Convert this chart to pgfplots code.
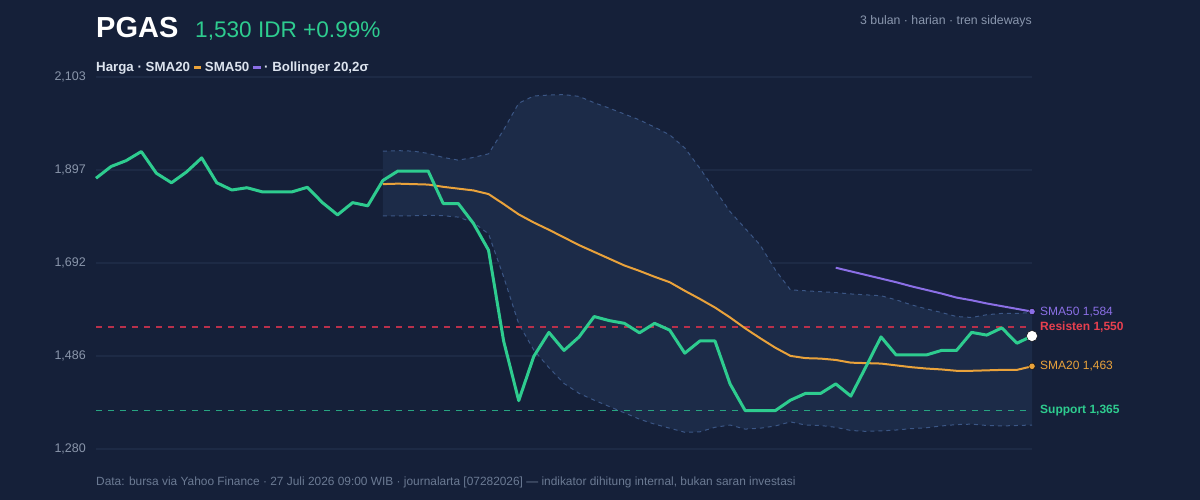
\documentclass[border=0pt]{standalone}
\usepackage{pgfplots}
\pgfplotsset{compat=1.18}
\usepgfplotslibrary{fillbetween}
\usepackage{fontspec}
\setmainfont{Liberation Sans}
\definecolor{bg}{HTML}{152039}
\definecolor{bandfill}{HTML}{1C2B48}
\definecolor{gridc}{HTML}{1D2A45}
\definecolor{bandline}{HTML}{3B5685}
\definecolor{pgreen}{HTML}{2ECC8F}
\definecolor{porange}{HTML}{E9A23B}
\definecolor{ppurple}{HTML}{8B6FE6}
\definecolor{resline}{HTML}{B8304B}
\definecolor{reslabel}{HTML}{E8404F}
\definecolor{supline}{HTML}{27A582}
\definecolor{tickc}{HTML}{8A96AB}
\definecolor{footc}{HTML}{6B7A93}
\definecolor{legc}{HTML}{DCE3EE}
\definecolor{topc}{HTML}{8A97AE}

\pgfplotstableread{
i v
0 1879
1 1905
2 1918
3 1938
4 1890
5 1869
6 1893
7 1924
8 1869
9 1853
10 1858
11 1849
12 1849
13 1849
14 1859
15 1825
16 1798
17 1825
18 1818
19 1874
20 1895
21 1895
22 1895
23 1823
24 1823
25 1779
26 1720
27 1519
28 1387
29 1485
30 1538
31 1498
32 1528
33 1573
34 1564
35 1558
36 1537
37 1558
38 1543
39 1492
40 1519
41 1519
42 1424
43 1365
44 1365
45 1365
46 1388
47 1403
48 1403
49 1424
50 1397
51 1462
52 1528
53 1488
54 1488
55 1488
56 1498
57 1498
58 1538
59 1532
60 1548
61 1514
62 1530
}\pricetab

\pgfplotstableread{
i v
19 1866
20 1867
21 1866
22 1865
23 1860
24 1856
25 1852
26 1844
27 1822
28 1799
29 1781
30 1765
31 1748
32 1731
33 1716
34 1701
35 1686
36 1674
37 1661
38 1649
39 1630
40 1612
41 1593
42 1571
43 1547
44 1525
45 1504
46 1486
47 1481
48 1480
49 1477
50 1471
51 1470
52 1469
53 1465
54 1461
55 1458
56 1456
57 1453
58 1453
59 1454
60 1455
61 1455
62 1463
}\smatwentytab

\pgfplotstableread{
i v
49 1681
50 1673
51 1665
52 1657
53 1649
54 1640
55 1632
56 1624
57 1615
58 1609
59 1602
60 1596
61 1590
62 1584
}\smafiftytab

\pgfplotstableread{
i v
19 1939
20 1940
21 1939
22 1934
23 1925
24 1919
25 1925
26 1933
27 1986
28 2045
29 2061
30 2063
31 2064
32 2060
33 2046
34 2034
35 2021
36 2008
37 1992
38 1975
39 1946
40 1901
41 1853
42 1805
43 1768
44 1731
45 1676
46 1632
47 1630
48 1628
49 1626
50 1623
51 1621
52 1619
53 1610
54 1599
55 1590
56 1582
57 1573
58 1571
59 1577
60 1580
61 1580
62 1582
}\uppertab

\pgfplotstableread{
i v
19 1796
20 1796
21 1796
22 1797
23 1796
24 1793
25 1781
26 1756
27 1661
28 1557
29 1499
30 1460
31 1425
32 1403
33 1388
34 1374
35 1360
36 1346
37 1335
38 1326
39 1317
40 1318
41 1328
42 1333
43 1324
44 1326
45 1331
46 1340
47 1333
48 1332
49 1328
50 1321
51 1319
52 1320
53 1322
54 1325
55 1327
56 1331
57 1334
58 1335
59 1332
60 1331
61 1332
62 1333
}\lowertab

\begin{document}%
\pagecolor{bg}%
\begin{tikzpicture}[x=1pt,y=1pt]
\path (0,0) rectangle (1200,500);
\node[anchor=base west, inner sep=0pt, text=white, font=\fontsize{29}{32}\selectfont\bfseries] at (96,462) {PGAS};
\node[anchor=base west, inner sep=0pt, text=pgreen, font=\fontsize{22.6}{26}\selectfont] at (195,462) {1,530 IDR +0.99\%};
\node[anchor=base east, inner sep=0pt, text=topc, font=\fontsize{12.3}{15}\selectfont] at (1032,475) {3 bulan · harian · tren sideways};
\node[anchor=base west, inner sep=0pt, text=legc, font=\fontsize{13.3}{15}\selectfont\bfseries] at (96,428) {Harga · SMA20 \textcolor{porange}{\rule[3.4pt]{7.5pt}{2.8pt}} SMA50 \textcolor{ppurple}{\rule[3.4pt]{7.5pt}{2.8pt}} · Bollinger 20,2σ};
\node[anchor=base west, inner sep=0pt, text=footc, font=\fontsize{11.9}{14}\selectfont] at (96,14) {Data: bursa via Yahoo Finance · 27 Juli 2026 09:00 WIB · journalarta [07282026] — indikator dihitung internal, bukan saran investasi};
\begin{axis}[
  at={(96pt,51pt)}, anchor=south west,
  scale only axis, width=936pt, height=372pt,
  xmin=0, xmax=62, ymin=1280, ymax=2103,
  axis line style={draw=none},
  major tick length=0pt,
  xtick=\empty,
  ytick={1280,1486,1692,1897,2103},
  yticklabels={{1,280},{1,486},{1,692},{1,897},{2,103}},
  yticklabel style={font=\fontsize{12.5}{15}\selectfont, text=tickc, inner sep=0pt, xshift=-10pt},
  ymajorgrids,
  grid style={draw=gridc, line width=1.5pt},
  clip=false,
]
\addplot[name path=up, draw=none, forget plot] table[x=i,y=v] {\uppertab};
\addplot[name path=lo, draw=none, forget plot] table[x=i,y=v] {\lowertab};
\addplot[fill=bandfill, draw=none] fill between[of=up and lo];
\addplot[draw=bandline, line width=1pt, dash pattern=on 4pt off 4pt] table[x=i,y=v] {\uppertab};
\addplot[draw=bandline, line width=1pt, dash pattern=on 4pt off 4pt] table[x=i,y=v] {\lowertab};
\addplot[draw=resline, line width=1.5pt, dash pattern=on 6pt off 6pt] coordinates {(0,1550) (62,1550)};
\addplot[draw=supline, line width=1.5pt, dash pattern=on 6pt off 6pt] coordinates {(0,1365) (62,1365)};
\addplot[draw=porange, line width=2pt] table[x=i,y=v] {\smatwentytab};
\addplot[draw=ppurple, line width=2pt] table[x=i,y=v] {\smafiftytab};
\addplot[draw=pgreen, line width=3pt, line join=round] table[x=i,y=v] {\pricetab};
\addplot[only marks, mark=*, mark size=3.2pt, mark options={fill=ppurple, draw=none}] coordinates {(62,1584)};
\addplot[only marks, mark=*, mark size=3.2pt, mark options={fill=porange, draw=none}] coordinates {(62,1463)};
\addplot[only marks, mark=*, mark size=5.5pt, mark options={fill=white, draw=none}] coordinates {(62,1530)};
\node[anchor=west, inner sep=0pt, xshift=8pt, text=ppurple, font=\fontsize{12}{14}\selectfont] at (axis cs:62,1584) {SMA50 1,584};
\node[anchor=west, inner sep=0pt, xshift=8pt, text=reslabel, font=\fontsize{12}{14}\selectfont\bfseries] at (axis cs:62,1550) {Resisten 1,550};
\node[anchor=west, inner sep=0pt, xshift=8pt, text=porange, font=\fontsize{12}{14}\selectfont] at (axis cs:62,1463) {SMA20 1,463};
\node[anchor=west, inner sep=0pt, xshift=8pt, text=pgreen, font=\fontsize{12}{14}\selectfont\bfseries] at (axis cs:62,1365) {Support 1,365};
\end{axis}
\end{tikzpicture}%
\end{document}
